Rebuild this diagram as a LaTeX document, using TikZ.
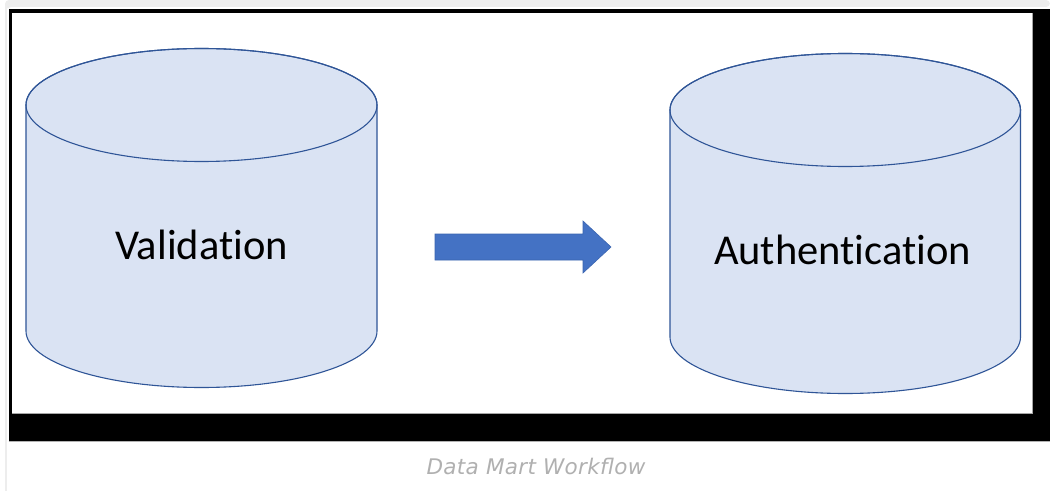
\documentclass[tikz,border=0pt]{standalone}
\usepackage{fontspec}
\setmainfont{Carlito}[Ligatures=NoCommon]
\newfontfamily\capfont{DejaVu Sans}
\definecolor{cylfill}{HTML}{DAE3F3}
\definecolor{cylline}{HTML}{2F5597}
\definecolor{arrowfill}{HTML}{4472C4}
\definecolor{arrowline}{HTML}{3A64B0}
\definecolor{cardgray}{HTML}{EDEDED}
\definecolor{captiongray}{HTML}{B0B0B0}
\tikzset{
  cyl/.style={fill=cylfill, draw=cylline, line width=1.1pt, line join=round},
  label text/.style={font=\fontsize{42.5}{48}\selectfont, text=black, inner sep=0pt, anchor=base},
  blockarrow/.style={fill=arrowfill, draw=arrowline, line width=0.6pt, line join=miter},
}
\begin{document}
\begin{tikzpicture}[x=1pt, y=1pt]
  \useasboundingbox (0,0) rectangle (1050,491);
  \fill[white] (0,0) rectangle (1050,491);
  % card border
  \fill[cardgray] (5,0) rectangle (7,485);
  \fill[cardgray, rounded corners=4pt] (5,480) -- (5,491) -- (1050,491) -- (1050,484) -- (7,484) -- cycle;
  % framed image
  \fill[black] (8.5,482) rectangle (1050,50);
  \fill[white] (12,478) rectangle (1032,78);
  \draw[gray!70, line width=0.6pt] (12,78) -- (1032,78) -- (1032,478);
  \draw[gray!60, line width=0.8pt] (8.5,49.6) -- (1050,49.6);

  % left cylinder
  \path[cyl] (26,386) -- (26,160) arc[start angle=180, end angle=360, x radius=175.5, y radius=56.5]
             -- (377,386) arc[start angle=0, end angle=180, x radius=175.5, y radius=56.5] -- cycle;
  \draw[cylline, line width=1.1pt] (201.5,386) ellipse[x radius=175.5, y radius=56.5];
  % right cylinder
  \path[cyl] (670,381) -- (670,154) arc[start angle=180, end angle=360, x radius=175.25, y radius=56.5]
             -- (1020.5,381) arc[start angle=0, end angle=180, x radius=175.25, y radius=56.5] -- cycle;
  \draw[cylline, line width=1.1pt] (845.25,381) ellipse[x radius=175.25, y radius=56.5];

  \node[label text] (validation) at (201.5,232) {Validation};
  \node[label text] (authentication) at (842.5,227) {Authentication};

  % block arrow between the stores
  \coordinate (arrowtip) at (611,244);
  \path[blockarrow] (435,257) -- (583,257) -- (583,270) -- (arrowtip) -- (583,218) -- (583,231) -- (435,231) -- cycle;

  \node[font={\capfont\itshape\fontsize{21.5}{26}\selectfont\addfontfeature{LetterSpace=1.5}}, text=captiongray, inner sep=0pt, anchor=base] (caption) at (536,17) {Data Mart Workflow};
\end{tikzpicture}
\end{document}
